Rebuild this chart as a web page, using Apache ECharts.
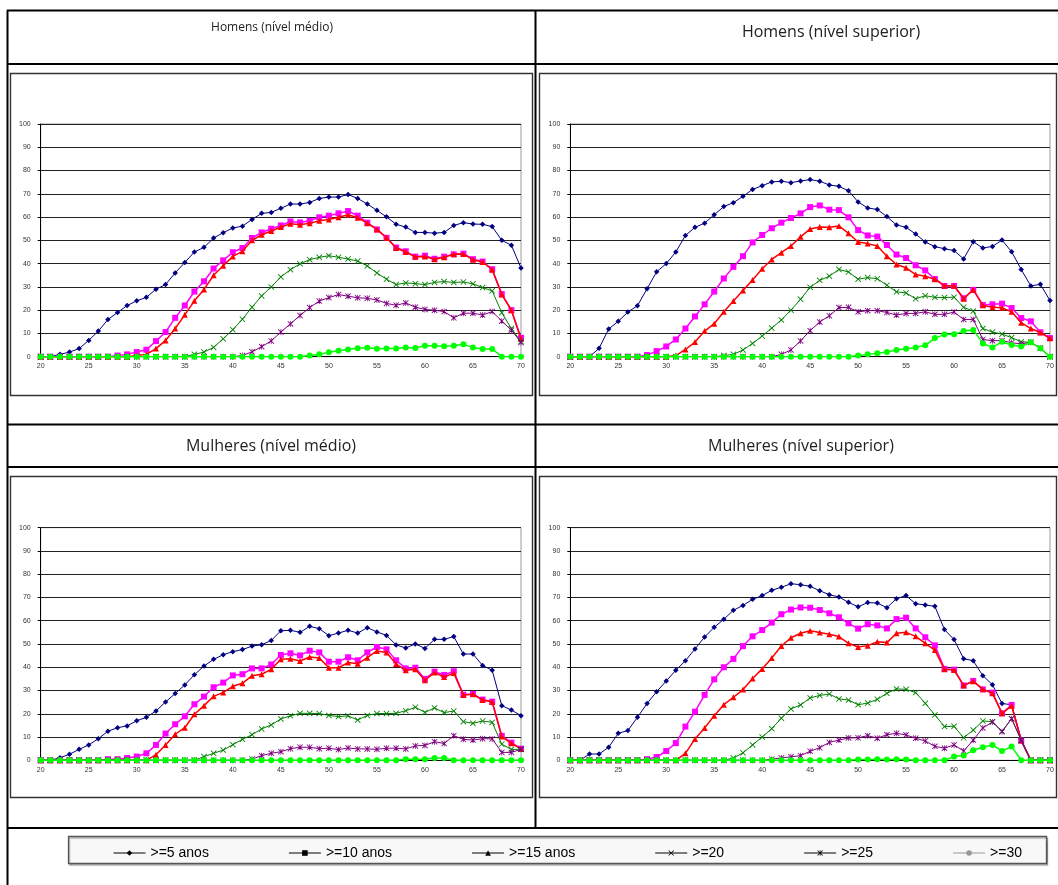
<!DOCTYPE html>
<html><head><meta charset="utf-8">
<script src="https://cdn.jsdelivr.net/npm/echarts@6/dist/echarts.min.js"></script>
<style>html,body{margin:0;padding:0;background:#fff}#c{width:1058px;height:885px}</style>
</head><body><div id="c"></div>
<script>
// ---- categories / labels ----
const ages = [20,21,22,23,24,25,26,27,28,29,30,31,32,33,34,35,36,37,38,39,40,41,42,43,44,45,46,47,48,49,50,51,52,53,54,55,56,57,58,59,60,61,62,63,64,65,66,67,68,69,70];
const seriesNames = ['>=5 anos','>=10 anos','>=15 anos','>=20','>=25','>=30'];
const panelTitles = ['Homens (nível médio)','Homens (nível superior)','Mulheres (nível médio)','Mulheres (nível superior)'];

// ---- Homens (nível médio) ----
const hm5  = [0,0,1,2,3.5,7,11,16,19,22, 24,25.5,29,31,36,40.5,45,47,51,53.3, 55.3,56.1,59,61.6,62,63.8,65.6,65.6,66.3,68, 68.6,68.6,69.7,68,65.6,62.9,60.1,56.9,55.7,53.4, 53.4,53.1,53.4,56.4,57.6,57,56.9,55.9,50,47.9, 38.1];
const hm10 = [0,0,0,0,0,0,0,0,0.5,1, 2,3,6.7,10.6,16.7,22,28,32.4,37.9,41.4, 44.9,46.7,51,53.4,55,56.4,58.1,57.7,58.4,59.9, 60.6,61.6,62.6,60.6,57.6,54.7,51.1,46.9,45.3,43, 43.4,42.1,43,44,44.3,41.9,40.9,37.6,26.9,20, 8.1];
const hm15 = [0,0,0,0,0,0,0,0,0,0, 0.5,1,3.5,7,12.1,18,24,28.9,35,39.1, 43.1,45.3,50,52.4,54,55.7,57.1,56.7,57.3,58.4, 59,59.9,61,59.7,57.4,54.7,51.1,46.7,45,42.9, 43.1,41.9,42.7,44,44.1,41.7,40.7,37.4,26.7,20, 7.6];
const hm20 = [0,0,0,0,0,0,0,0,0,0, 0,0,0,0,0,0,1,2,4,7.7, 11.6,16.1,21.3,26.1,30,34.3,37.4,39.9,41.7,42.7, 43.4,42.7,42,41.1,39,36,33.3,31,31.7,31.4, 31,31.9,32.3,31.9,32.1,31.3,29.7,28.3,18.9,12.1, 6.5];
const hm25 = [0,0,0,0,0,0,0,0,0,0, 0,0,0,0,0,0,0,0,0,0, 0,0.5,2.1,4.3,6.8,10.6,14.1,17.7,21.1,23.9, 25.4,26.7,26,25.3,25.1,24.4,22.9,22.1,23.1,21.3, 20.3,20,19.4,16.7,18.7,18.7,17.9,19.4,15.3,11.4, 6.1];
const hm30 = [0,0,0,0,0,0,0,0,0,0, 0,0,0,0,0,0,0,0,0,0, 0,0,0,0,0,0,0,0,0.5,1, 1.9,2.6,3.1,3.6,3.8,3.4,3.5,3.5,4,3.7, 4.7,4.7,4.5,4.7,5.3,4,3.3,3.3,0,0, 0];

// ---- Homens (nível superior) ----
const hs5  = [0,0,0,3.6,11.9,15.2,19.2,21.9,29.2,36.5, 40,45,52.1,55.6,57.4,61,64.5,66.2,68.9,71.9, 73.5,75.1,75.4,74.8,75.5,76.1,75.4,73.8,73.2,71.3, 66.5,63.9,63.3,60.2,56.6,55.6,52.7,49.3,47.3,46.4, 45.6,42,49.4,46.7,47.4,50.1,45.1,37.5,30.4,31.1, 24.1];
const hs10 = [0,0,0,0,0,0,0,0,0.7,2.4, 4.4,7.4,12.1,17.3,22.5,28,33.6,38.6,43.2,49.1, 52.3,55.2,57.6,59.6,61.6,64.3,65,63.2,63,59.9, 54.4,52.1,51.6,48,43.9,42.4,39.3,37.1,33.4,30.4, 30.4,25.1,28.7,22.2,22.5,22.8,20.9,16.6,15.2,10.5, 8];
const hs15 = [0,0,0,0,0,0,0,0,0,0, 0,0.5,3.1,6.3,11,14.2,19.3,23.9,28.5,33, 37.8,41.8,44.7,47.6,51.5,54.9,55.7,55.6,56.2,53, 49.3,48.6,47.6,43.2,39.6,38.2,35.3,34.6,33.3,30.5, 30.5,24.9,28.8,22.1,21.2,21,19.3,14.6,12.1,10.4, 7.9];
const hs20 = [0,0,0,0,0,0,0,0,0,0, 0,0,0,0,0,0,0.5,1,2.9,5.7, 8.9,12.3,15.8,20,24.7,29.8,32.8,34.6,37.5,36.4, 33.3,34,33.5,30.7,27.9,27.4,24.9,26.2,25.5,25.4, 25.6,21.2,19.6,12.1,10.6,9.7,8.2,6.4,6.2,3.6, 0];
const hs25 = [0,0,0,0,0,0,0,0,0,0, 0,0,0,0,0,0,0,0,0,0, 0,0,1,2.9,6.8,11.2,14.9,17.6,21.1,21.2, 19.3,19.8,19.8,19,17.9,18.6,18.6,19.3,18.2,18.2, 19.2,16,16,7.4,6.9,6.9,6,5.5,6.2,3.6, 0];
const hs30 = [0,0,0,0,0,0,0,0,0,0, 0,0,0,0,0,0,0,0,0,0, 0,0,0,0,0,0,0,0,0,0, 0.5,1,1.5,2,2.9,3.4,4,4.9,8,9.5, 9.6,11,11.5,5.7,4,6.4,5,4.4,6.2,3.6, 0];

// ---- Mulheres (nível médio) ----
const mm5  = [0,0,1.1,2.6,4.7,6.6,9.3,12.5,14,14.8, 17,18.5,21.2,25.1,28.7,32.4,36.8,40.5,43.4,45.4, 46.7,47.6,49.1,49.7,51.5,55.7,55.9,55,57.6,56.6, 53.6,54.7,55.9,54.7,57,55.2,53.7,49.6,48.3,50, 48.1,52,52,53.2,45.7,45.7,40.8,38.7,23.5,21.6, 19.2];
const mm10 = [0,0,0,0,0,0,0,0.5,0.5,1, 1.6,3,6.6,11.5,15.5,18.9,24.1,27.4,31.4,33.4, 36.5,37,39.5,39.5,41.2,45.3,46,45.1,47.1,46.4, 42.4,42.4,44.3,43,46.4,48.7,47.7,43,39.5,39.8, 35,38.1,36.7,38.3,28.2,28.5,26.1,25.2,10.5,7.6, 5];
const mm15 = [0,0,0,0,0,0,0,0,0,0, 0,0,2.4,6.6,11.2,14,19.8,23.5,27.5,29.2, 31.8,33.1,36.4,37,39.1,43.4,43.7,42.7,44.4,44, 39.8,39.8,42,41.5,44.1,47,46.3,41.4,38.7,39.1, 34.4,37.7,35.8,37.5,28.1,28.4,25.9,25.1,10.2,7.3, 4.9];
const mm20 = [0,0,0,0,0,0,0,0,0,0, 0,0,0,0,0,0,0,1.6,3,4.4, 6.7,9,11,13.5,15.2,17.8,19.1,20.2,20.2,20.1, 19.3,18.8,19.1,17.3,19.3,20.1,20.1,20.2,21.3,22.8, 20.6,22.5,20.5,21.2,16.6,15.9,16.9,16.3,6.9,4.7, 4.7];
const mm25 = [0,0,0,0,0,0,0,0,0,0, 0,0,0,0,0,0,0,0,0,0, 0,0,0.5,2,3,3.7,5,5.6,5.6,5, 5.2,4.6,5.3,4.9,4.9,4.7,5.2,5.2,4.9,6.2, 6.4,8,7.2,10.6,9,8.7,9.3,9.2,3.4,3.4, 4.7];
const mm30 = [0,0,0,0,0,0,0,0,0,0, 0,0,0,0,0,0,0,0,0,0, 0,0,0,0,0,0,0,0,0,0, 0,0,0,0,0,0,0,0,0.5,0.5, 0.5,1,1,0,0,0,0,0,0,0, 0];

// ---- Mulheres (nível superior) ----
const ms5  = [0,0,2.7,2.7,5.6,11.6,12.8,18.5,24.4,29.5, 34.1,38.7,42.8,47.9,53,57.2,60.6,64.5,66.6,69.2, 70.8,73.1,74.4,75.9,75.5,74.8,72.9,71.2,70.2,67.9, 66,67.8,67.6,65.6,69.5,70.8,67.3,66.8,66.2,56.2, 51.9,43.7,42.8,36.4,32.5,24.4,23.9,9,0,0, 0];
const ms10 = [0,0,0,0,0,0,0,0,0.5,1.4, 4,7.4,14.5,20.9,28.1,34.8,40,43.6,49.1,53.3, 56,59.2,62.8,64.8,65.7,65.6,64.6,63.2,61.5,58.9, 56.6,58.5,58,56.7,60.7,61.3,56.7,52.9,49.4,39.3, 39,32.2,34.1,30.5,29.1,20.2,23.8,8.5,0,0, 0];
const ms15 = [0,0,0,0,0,0,0,0,0,0, 0,0,3,9.2,13.9,19.2,23.9,27.1,30.4,35.2, 39.3,44,49.1,52.7,54.6,55.7,54.9,54.2,53.2,50.3, 48.7,49.3,51,50.6,54.6,55,53.3,50.3,47.4,39.1, 38.8,32.2,34,30.5,28.8,20.2,23.4,8.5,0,0, 0];
const ms20 = [0,0,0,0,0,0,0,0,0,0, 0,0,0,0,0,0,0,1,3.2,6.6, 10,13.6,18.1,22.1,23.8,26.8,27.9,28.5,26.4,25.9, 23.9,24.6,26.2,28.8,30.7,30.5,29.1,24.5,19.5,14.5, 14.6,9.7,13,16.9,16.6,12.5,17.9,8.7,0,0, 0];
const ms25 = [0,0,0,0,0,0,0,0,0,0, 0,0,0,0,0,0,0,0,0,0, 0,0.5,1,1.5,2,3.9,5.4,7.7,8.7,9.6, 9.7,10.6,9.5,11,11.6,10.9,9.5,8.3,6,5.2, 6.6,4,8.7,13.9,16.5,12.3,17.9,8.5,0,0, 0];
const ms30 = [0,0,0,0,0,0,0,0,0,0, 0,0,0,0,0,0,0,0,0,0, 0,0,0,0,0,0,0,0,0,0, 0.3,0.3,0.4,0.3,0.5,0.3,0,0,0,0, 1.6,2.1,4.3,5.6,6.6,4,5.9,0,0,0, 0];

const panels = [
  [hm5, hm10, hm15, hm20, hm25, hm30],
  [hs5, hs10, hs15, hs20, hs25, hs30],
  [mm5, mm10, mm15, mm20, mm25, mm30],
  [ms5, ms10, ms15, ms20, ms25, ms30]
];

// ---- styles ----
const colors = ['#000080','#FF00FF','#FF0000','#008000','#800080','#00FF00'];
const xSym = 'path://M0,1L1,0L5,4L9,0L10,1L6,5L10,9L9,10L5,6L1,10L0,9L4,5Z';
const starSym = 'path://M0,1L1,0L5,4L9,0L10,1L6,5L10,9L9,10L5,6L1,10L0,9L4,5Z M4.4,0L5.6,0L5.6,10L4.4,10Z';
const symbols = ['diamond','rect','triangle', xSym, starSym, 'circle'];
const symSizes = [5.5, 6, 6, 6, 6, 6];
const lineWidths = [1, 1.5, 1.5, 1, 1, 1.5];
const legendColors = ['#000','#000','#000','#000','#000','#999'];

const grids = [
  {left: 40.7, top: 124, width: 480.3, height: 232.7},
  {left: 570.3, top: 124, width: 479.7, height: 232.7},
  {left: 40.7, top: 527.7, width: 480.3, height: 232.6},
  {left: 570.3, top: 527.7, width: 479.7, height: 232.6}
];

const labelFont = 'Liberation Sans';

const option = {
  animation: false,
  backgroundColor: '#fff',
  grid: grids.map(g => Object.assign({show: true, borderColor: '#999', borderWidth: 1, backgroundColor: 'transparent', containLabel: false, outerBoundsMode: 'none'}, g)),
  xAxis: grids.map((g, i) => ({
    type: 'value', gridIndex: i, min: 20, max: 70, interval: 5,
    axisLine: {show: true, onZero: false, lineStyle: {color: '#000', width: 1}},
    axisTick: {show: false},
    splitLine: {show: false},
    axisLabel: {fontSize: 7, color: '#333', margin: 6, fontFamily: labelFont, showMinLabel: true, showMaxLabel: true}
  })),
  yAxis: grids.map((g, i) => ({
    type: 'value', gridIndex: i, min: 0, max: 100, interval: 10,
    axisLine: {show: true, lineStyle: {color: '#000', width: 1}},
    axisTick: {show: true, length: 3, lineStyle: {color: '#000'}},
    splitLine: {show: true, lineStyle: {color: '#222', width: 1}},
    axisLabel: {fontSize: 7, color: '#333', margin: 10, fontFamily: labelFont}
  })),
  legend: {
    left: 108, top: 841, itemWidth: 32, itemHeight: 7, itemGap: 79.5,
    textStyle: {fontSize: 14, fontFamily: labelFont, color: '#000'},
    selectedMode: false,
    data: seriesNames.map((n, i) => ({
      name: n,
      itemStyle: {color: legendColors[i]},
      lineStyle: {color: legendColors[i], width: 1}
    }))
  },
  series: [],
  graphic: []
};

panels.forEach((vals, p) => {
  vals.forEach((arr, s) => {
    option.series.push({
      type: 'line', name: seriesNames[s], xAxisIndex: p, yAxisIndex: p,
      data: ages.map((a, k) => [a, arr[k]]),
      symbol: symbols[s], symbolSize: symSizes[s], symbolKeepAspect: true,
      showAllSymbol: true,
      lineStyle: {color: colors[s], width: lineWidths[s]},
      itemStyle: {color: colors[s]},
      emphasis: {disabled: true},
      z: 3 + s
    });
  });
});

const G = option.graphic;
const line = (x1, y1, x2, y2, w) => G.push({type: 'line', shape: {x1, y1, x2, y2}, style: {stroke: '#000', lineWidth: w || 2}, z: 10});
// table frame
line(7, 10.5, 1058, 10.5);
line(7.5, 10, 7.5, 885);
line(535.5, 10, 535.5, 828);
line(7, 64, 1058, 64);
line(7, 424.5, 1058, 424.5);
line(7, 467, 1058, 467);
line(7, 828, 1058, 828);
// chart area boxes
const boxes = [[10.5, 73.5, 522, 322], [539.5, 73.5, 517, 322], [10.5, 476.5, 522, 321], [539.5, 476.5, 517, 321]];
boxes.forEach(b => G.push({type: 'rect', shape: {x: b[0], y: b[1], width: b[2], height: b[3]}, style: {fill: 'none', stroke: '#333', lineWidth: 1.4}, z: 1}));
// legend box
G.push({type: 'rect', shape: {x: 68.5, y: 836.5, width: 978, height: 27}, style: {fill: '#f8f8f8', stroke: '#555', lineWidth: 1.3, shadowColor: 'rgba(0,0,0,0.3)', shadowOffsetX: 1, shadowOffsetY: 1.5, shadowBlur: 1}, z: -1});
// titles
const titlePos = [[272, 28, 12], [831, 32, 16], [271, 446, 16], [801, 446, 16]];
panelTitles.forEach((t, i) => G.push({type: 'text', x: titlePos[i][0], y: titlePos[i][1],
  style: {text: t, fontSize: titlePos[i][2], fontFamily: 'Open Sans', fill: '#222', align: 'center', verticalAlign: 'middle'}, z: 10}));

const chart = echarts.init(document.getElementById('c'), null, {renderer: 'canvas'});
chart.setOption(option);
</script>
</body></html>
